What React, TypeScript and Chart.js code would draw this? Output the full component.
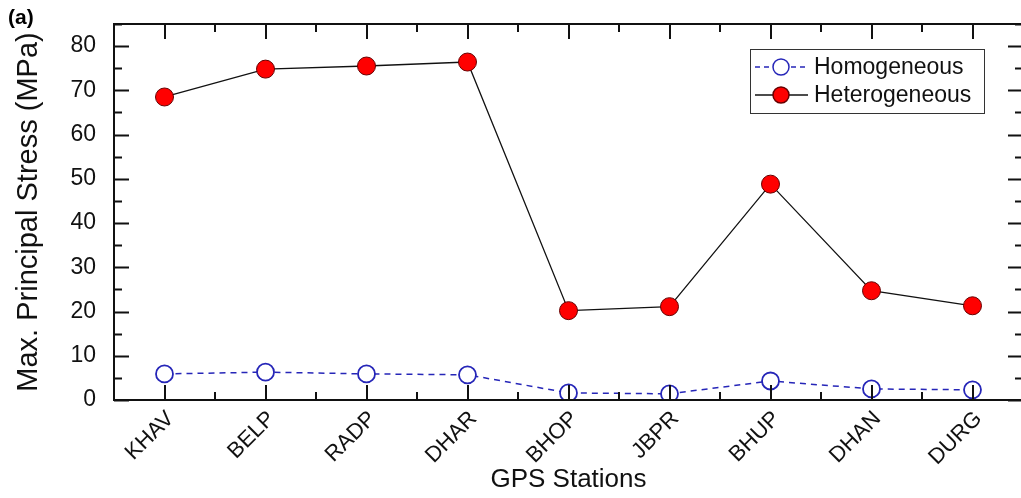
import React, { useEffect, useRef } from "react";
import { Chart, registerables } from "chart.js";

Chart.register(...registerables);

const stations = ["KHAV", "BELP", "RADP", "DHAR", "BHOP", "JBPR", "BHUP", "DHAN", "DURG"];
const homogeneous = [5.9, 6.3, 5.9, 5.7, 1.6, 1.4, 4.3, 2.5, 2.3];
const heterogeneous = [68.5, 74.8, 75.5, 76.4, 20.2, 21.1, 48.8, 24.7, 21.3];
const yMajorTicks = [0, 10, 20, 30, 40, 50, 60, 70, 80];
const yMinorTicks = [5, 15, 25, 35, 45, 55, 65, 75, 85];

const FONT = "'Liberation Sans', Arial, sans-serif";
const BLUE = "#2626b8";
const RED = "#ff0000";

const framePlugin = {
  id: "frame",
  afterDatasetsDraw(chart: any) {
    const { ctx, chartArea } = chart;
    const { left, right, top, bottom } = chartArea;
    const xs = chart.scales.x;
    const ys = chart.scales.y;
    ctx.save();
    ctx.strokeStyle = "#111";
    ctx.lineWidth = 2;
    ctx.strokeRect(left, top, right - left, bottom - top);
    const majL = 15, minL = 8;
    ctx.beginPath();
    yMajorTicks.forEach((v) => {
      const y = Math.round(ys.getPixelForValue(v)) + 0.5;
      ctx.moveTo(left, y); ctx.lineTo(left + majL, y);
      ctx.moveTo(right, y); ctx.lineTo(right - majL, y);
    });
    yMinorTicks.forEach((v) => {
      const y = Math.round(ys.getPixelForValue(v)) + 0.5;
      ctx.moveTo(left, y); ctx.lineTo(left + minL, y);
      ctx.moveTo(right, y); ctx.lineTo(right - minL, y);
    });
    stations.forEach((_, i) => {
      const x = Math.round(xs.getPixelForValue(i));
      ctx.moveTo(x, bottom); ctx.lineTo(x, bottom - majL);
      ctx.moveTo(x, top); ctx.lineTo(x, top + majL);
      const xm = Math.round(xs.getPixelForValue(i + 0.5));
      if (i < stations.length - 1) {
        ctx.moveTo(xm, bottom); ctx.lineTo(xm, bottom - minL);
        ctx.moveTo(xm, top); ctx.lineTo(xm, top + minL);
      }
    });
    ctx.stroke();

    // legend
    const bx = 750, by = 49, bw = 234, bh = 64;
    ctx.fillStyle = "#fff";
    ctx.fillRect(bx, by, bw, bh);
    ctx.lineWidth = 1;
    ctx.strokeStyle = "#333";
    ctx.strokeRect(bx + 0.5, by + 0.5, bw, bh);
    const rows = [
      { label: "Homogeneous", y: by + 18, color: BLUE, dash: [5, 4], fill: "#fff", border: BLUE },
      { label: "Heterogeneous", y: by + 46, color: "#111", dash: [], fill: RED, border: "#600" },
    ];
    rows.forEach((r) => {
      ctx.strokeStyle = r.color;
      ctx.lineWidth = 1.5;
      ctx.setLineDash(r.dash);
      ctx.beginPath();
      ctx.moveTo(bx + 5, r.y); ctx.lineTo(bx + 58, r.y);
      ctx.stroke();
      ctx.setLineDash([]);
      ctx.beginPath();
      ctx.arc(bx + 31, r.y, 8, 0, Math.PI * 2);
      ctx.fillStyle = r.fill;
      ctx.fill();
      ctx.lineWidth = 1.5;
      ctx.strokeStyle = r.border;
      ctx.stroke();
      ctx.fillStyle = "#111";
      ctx.font = `23px ${FONT}`;
      ctx.textBaseline = "middle";
      ctx.textAlign = "left";
      ctx.fillText(r.label, bx + 64, r.y + 1);
    });

    // panel label
    ctx.font = `bold 21px ${FONT}`;
    ctx.fillStyle = "#000";
    ctx.textBaseline = "middle";
    ctx.fillText("(a)", 8, 18);
    ctx.restore();
  },
};

export default function App() {
  const ref = useRef<HTMLCanvasElement>(null);
  useEffect(() => {
    document.body.style.overflow = "hidden";
    const W = 1040;
    const chart = new Chart(ref.current!, {
      type: "line",
      data: {
        labels: stations,
        datasets: [
          {
            label: "Homogeneous",
            data: homogeneous,
            borderColor: BLUE,
            borderWidth: 1.5,
            borderDash: [6, 5],
            pointRadius: 8.5,
            pointBackgroundColor: "#fff",
            pointBorderColor: BLUE,
            pointBorderWidth: 1.8,
            tension: 0,
          },
          {
            label: "Heterogeneous",
            data: heterogeneous,
            borderColor: "#111",
            borderWidth: 1.3,
            pointRadius: 9,
            pointBackgroundColor: RED,
            pointBorderColor: "#600",
            pointBorderWidth: 1,
            tension: 0,
          },
        ],
      },
      options: {
        animation: false,
        responsive: true,
        maintainAspectRatio: false,
        layout: { padding: { left: 0, top: 24, right: W - 1023, bottom: 0 } },
        plugins: { legend: { display: false }, tooltip: { enabled: false } },
        scales: {
          x: {
            type: "category",
            offset: true,
            grid: { display: false, drawTicks: false },
            border: { display: false },
            ticks: {
              color: "#111",
              font: { family: FONT, size: 22 },
              maxRotation: 45,
              minRotation: 45,
              padding: 6,
              labelOffset: 6,
              autoSkip: false,
            },
            title: {
              display: true,
              text: "GPS Stations",
              color: "#111",
              font: { family: FONT, size: 26 },
              padding: { top: 0, bottom: 3 },
            },
            afterFit: (s: any) => {
              s.height = 98;
              s.paddingLeft = 0;
              s.paddingRight = 0;
            },
          },
          y: {
            min: 0,
            max: 85,
            grid: { display: false, drawTicks: false },
            border: { display: false },
            ticks: {
              color: "#111",
              font: { family: FONT, size: 23 },
              padding: 18,
            },
            afterBuildTicks: (s: any) => {
              s.ticks = yMajorTicks.map((v) => ({ value: v }));
            },
            title: {
              display: true,
              text: "Max. Principal Stress (MPa)",
              color: "#111",
              font: { family: FONT, size: 29 },
              padding: { top: 12, bottom: 0 },
            },
            afterFit: (s: any) => {
              s.width = 114;
              s.paddingTop = 0;
              s.paddingBottom = 0;
            },
          },
        },
      },
      plugins: [framePlugin],
    });
    return () => chart.destroy();
  }, []);
  return (
    <div style={{ position: "absolute", left: 0, top: 0, width: 1040, height: 498, background: "#fff" }}>
      <canvas ref={ref} />
    </div>
  );
}
